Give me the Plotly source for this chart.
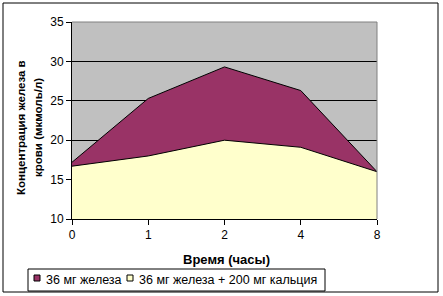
import plotly.graph_objects as go

categories = ["0", "1", "2", "4", "8"]
iron_only = [17.2, 25.3, 29.3, 26.3, 16.0]
iron_calcium = [16.7, 18.0, 20.0, 19.1, 16.0]
y_ticks = [10, 15, 20, 25, 30, 35]
series_names = ["36 мг железа", "36 мг железа + 200 мг кальция"]
series_colors = ["#993366", "#FFFFCC"]

W, H = 443, 296
L, R, T, B = 72, 377, 22, 219
pw, ph = R - L, B - T

def px_x(p):
    return (p - L) / pw

def px_y(p):
    return (B - p) / ph

xpos = list(range(len(categories)))
FONT = "Liberation Sans, Arial, sans-serif"

fig = go.Figure()
for vals, name, col in zip([iron_only, iron_calcium], series_names, series_colors):
    fig.add_trace(go.Scatter(
        x=xpos, y=vals, name=name, mode="lines", showlegend=False,
        line=dict(color="#000000", width=1), fill="tozeroy", fillcolor=col,
    ))

shapes = [
    dict(type="line", xref="paper", yref="paper", x0=0, x1=1, y0=1, y1=1,
         line=dict(color="#808080", width=1), layer="above"),
    dict(type="line", xref="paper", yref="paper", x0=1, x1=1, y0=0, y1=1,
         line=dict(color="#808080", width=1), layer="above"),
    dict(type="rect", xref="paper", yref="paper",
         x0=px_x(3), x1=px_x(438), y0=px_y(292), y1=px_y(3),
         line=dict(color="black", width=1), layer="below"),
    # legend box
    dict(type="rect", xref="paper", yref="paper",
         x0=px_x(28), x1=px_x(325), y0=px_y(291), y1=px_y(269),
         line=dict(color="black", width=1), fillcolor="white", layer="above"),
]
annotations = [
    dict(text="<b>Время (часы)</b>", xref="paper", yref="paper",
         x=px_x(226), y=px_y(259), showarrow=False,
         font=dict(size=13), xanchor="center", yanchor="middle"),
    dict(text="<b>Концентрация железа в</b>", xref="paper", yref="paper",
         x=px_x(21), y=px_y(128), showarrow=False, textangle=-90,
         font=dict(size=11.5), xanchor="center", yanchor="middle"),
    dict(text="<b>крови (мкмоль/л)</b>", xref="paper", yref="paper",
         x=px_x(38), y=px_y(128), showarrow=False, textangle=-90,
         font=dict(size=11.5), xanchor="center", yanchor="middle"),
]
leg_sq_x = [34, 127]
leg_tx_x = [44, 137]
for name, col, sx, tx in zip(series_names, series_colors, leg_sq_x, leg_tx_x):
    shapes.append(dict(type="rect", xref="paper", yref="paper",
                       x0=px_x(sx), x1=px_x(sx + 6), y0=px_y(281), y1=px_y(275),
                       line=dict(color="black", width=1), fillcolor=col, layer="above"))
    annotations.append(dict(text=name, xref="paper", yref="paper",
                            x=px_x(tx), y=px_y(280), showarrow=False,
                            font=dict(size=12.5), xanchor="left", yanchor="middle"))

fig.update_layout(
    width=W, height=H,
    margin=dict(l=L, r=W - R, t=T, b=H - B, autoexpand=False),
    paper_bgcolor="white", plot_bgcolor="#C0C0C0",
    font=dict(family=FONT, size=12, color="black"),
    showlegend=False,
    xaxis=dict(
        range=[0, len(categories) - 1], tickvals=xpos, ticktext=categories,
        showgrid=False, zeroline=False, showline=True, linecolor="black", linewidth=1,
        ticks="outside", ticklen=5, tickcolor="black",
        tickfont=dict(size=12), fixedrange=True,
    ),
    yaxis=dict(
        range=[10, 35], tickvals=y_ticks, showgrid=True, gridcolor="black", gridwidth=1,
        zeroline=False, showline=True, linecolor="black", linewidth=1,
        ticks="outside", ticklen=5, tickcolor="black",
        tickfont=dict(size=12), fixedrange=True,
    ),
    shapes=shapes,
    annotations=annotations,
)

fig.write_html("out.html")
